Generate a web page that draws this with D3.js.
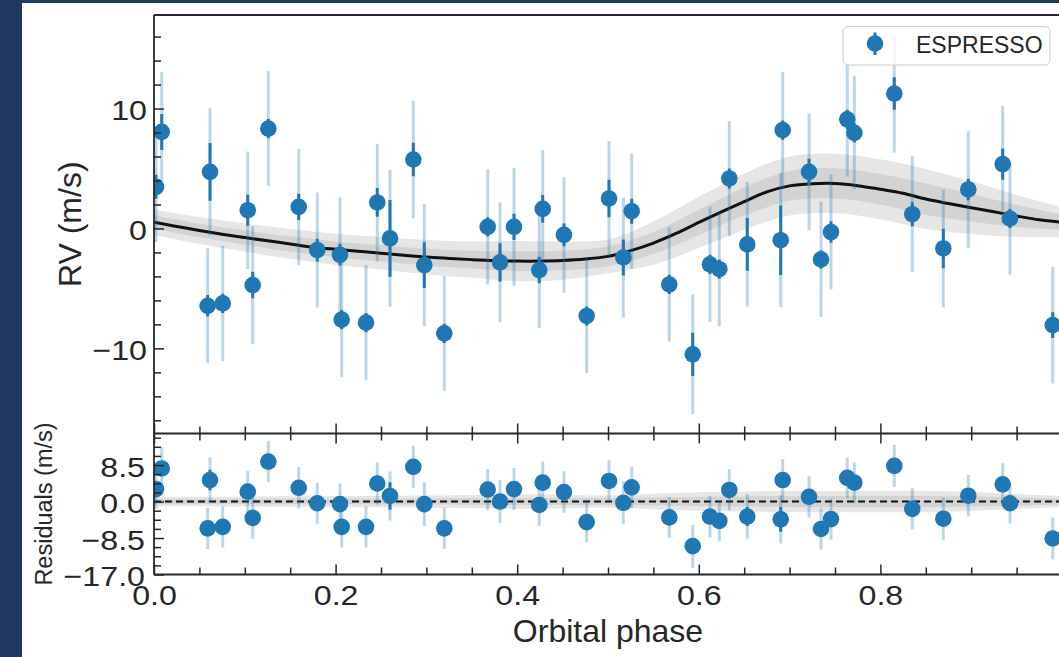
<!DOCTYPE html>
<html>
<head>
<meta charset="utf-8">
<script src="https://cdn.jsdelivr.net/npm/d3@7"></script>
<style>
  html, body { margin: 0; padding: 0; background: #1f3864; }
  svg { display: block; }
  text { font-family: "Liberation Sans", Arial, sans-serif; fill: #262626; }
</style>
</head>
<body>
<svg id="chart" width="1059" height="657"></svg>
<script>
// ESPRESSO radial velocities folded on the orbital phase
const phase = [0.0022, 0.0085, 0.0617, 0.0591, 0.0757, 0.1032, 0.1087, 0.1259, 0.1594, 0.1798,
               0.2048, 0.2067, 0.2335, 0.2459, 0.2599, 0.2856, 0.2977, 0.3197, 0.3675, 0.3811,
               0.3965, 0.4243, 0.4281, 0.4515, 0.4765, 0.5011, 0.5169, 0.5261, 0.5675, 0.5933,
               0.6123, 0.6226, 0.6336, 0.6534, 0.6902, 0.6924, 0.7214, 0.7346, 0.7456, 0.7635,
               0.7713, 0.8153, 0.8351, 0.8693, 0.8968, 0.9347, 0.9427, 0.9898];
const rv = [3.47, 8.05, 4.72, -6.45, -6.25, 1.52, -4.72, 8.33, 1.8, -1.8,
            -2.2, -7.6, -7.85, 2.17, -0.83, 5.75, -3.06, -8.75, 0.13, -2.83,
            0.13, -3.47, 1.63, -0.53, -7.3, 2.5, -2.42, 1.44, -4.67, -10.5,
            -3.0, -3.4, 4.17, -1.33, -0.98, 8.2, 4.72, -2.58, -0.3, 9.1,
            7.97, 11.25, 1.19, -1.67, 3.25, 5.36, 0.83, -8.06];
// instrumental uncertainty (dark bars)
const errInst = [1.0, 1.5, 2.4, 0.9, 0.8, 1.3, 1.1, 0.8, 1.1, 0.95,
                 0.9, 0.8, 0.8, 1.2, 3.2, 1.4, 1.9, 0.8, 0.8, 1.6,
                 1.1, 1.1, 1.15, 0.95, 0.8, 1.57, 1.5, 1.04, 0.8, 1.8,
                 0.8, 0.8, 0.83, 2.2, 2.9, 0.8, 1.1, 0.75, 0.9, 0.8,
                 0.8, 1.36, 1.0, 1.64, 0.9, 1.3, 0.8, 1.07];
// uncertainty including jitter (light bars)
const errTotal = [4.6, 5.0, 5.3, 4.8, 4.8, 4.9, 4.9, 4.8, 4.85, 4.8,
                  4.8, 4.8, 4.8, 4.9, 5.7, 4.9, 5.1, 4.8, 4.8, 5.0,
                  4.9, 4.85, 4.9, 4.83, 4.75, 4.8, 5.0, 4.8, 4.76, 5.0,
                  4.8, 4.76, 4.8, 5.2, 5.6, 4.86, 4.86, 4.8, 4.8, 4.76,
                  4.72, 4.93, 4.83, 4.9, 4.86, 4.9, 4.7, 4.86];
const resid = [2.9, 7.7, 5.0, -6.25, -5.9, 2.3, -3.8, 9.3, 3.2, -0.4,
               -0.6, -5.9, -5.9, 4.2, 1.3, 8.1, -0.6, -6.25, 2.8, 0.0,
               2.9, -0.8, 4.4, 2.2, -4.8, 4.8, -0.3, 3.3, -3.7, -10.4,
               -3.5, -4.5, 2.7, -3.5, -4.15, 5.0, 1.1, -6.4, -4.1, 5.5,
               4.4, 8.3, -1.7, -4.0, 1.35, 4.0, -0.4, -8.6];

// Keplerian model curve
const modelPhase = [0, 0.025, 0.05, 0.075, 0.1, 0.125, 0.15, 0.175, 0.2, 0.225,
                    0.25, 0.275, 0.3, 0.325, 0.35, 0.375, 0.4, 0.425, 0.45, 0.475,
                    0.5, 0.525, 0.55, 0.575, 0.6, 0.625, 0.65, 0.675, 0.7, 0.725,
                    0.75, 0.775, 0.8, 0.825, 0.85, 0.875, 0.9, 0.925, 0.95, 0.975, 1.0];
const modelRV = [0.52, 0.17, -0.17, -0.48, -0.76, -1.03, -1.29, -1.56, -1.74, -1.9,
                 -2.06, -2.23, -2.39, -2.5, -2.6, -2.68, -2.72, -2.72, -2.67, -2.55,
                 -2.33, -1.85, -1.22, -0.42, 0.5, 1.38, 2.24, 3.05, 3.55, 3.73,
                 3.75, 3.57, 3.27, 2.93, 2.45, 2.08, 1.73, 1.39, 1.04, 0.72, 0.52];
// half-widths of the inner and outer credible bands
const bandPhase = [0, 0.05, 0.1, 0.15, 0.2, 0.25, 0.3, 0.35, 0.4, 0.45, 0.5,
                   0.55, 0.6, 0.65, 0.7, 0.75, 0.8, 0.85, 0.9, 0.95, 1.0];
const band1 = [0.55, 0.57, 0.6, 0.63, 0.66, 0.68, 0.7, 0.75, 0.82, 0.82, 0.82,
               0.92, 1.04, 1.18, 1.25, 1.26, 1.28, 1.3, 1.15, 0.92, 0.65];
const band2 = [1.06, 1.12, 1.18, 1.24, 1.3, 1.36, 1.42, 1.52, 1.68, 1.6, 1.4,
               1.8, 2.14, 2.35, 2.46, 2.48, 2.5, 2.5, 2.2, 1.75, 1.25];

// ticks
const phaseMajor = [0, 0.2, 0.4, 0.6, 0.8];
const phaseMinor = d3.range(0, 20).map(i => i * 0.05);
const rvMajor = [-10, 0, 10];
const rvMinor = d3.range(-16, 17, 2);
const resMajor = [-17, -8.5, 0, 8.5];
const resMinor = d3.range(0, 16).map(i => -17 + i * 2.125);

const svg = d3.select("#chart");
const W = 1059, H = 657;

// page: white sheet over the navy frame
svg.append("rect").attr("x", 22).attr("y", 3).attr("width", W - 22).attr("height", H - 3).attr("fill", "#ffffff");

const L = 154, R = 1062;
const topY0 = 15, split = 433.5, botY1 = 574.5;

const x = d3.scaleLinear().domain([0, 1]).range([L, R]);
const yTop = d3.scaleLinear().domain([-17.1, 17.8]).range([split, topY0]);
const yBot = d3.scaleLinear().domain([-17, 15.85]).range([botY1, split]);

const defs = svg.append("defs");
defs.append("clipPath").attr("id", "clipTop").append("rect")
  .attr("x", L).attr("y", topY0).attr("width", R - L).attr("height", split - topY0);
defs.append("clipPath").attr("id", "clipBot").append("rect")
  .attr("x", L).attr("y", split).attr("width", R - L).attr("height", botY1 - split);

const blue = "#1f77b4";
const curve = d3.curveCatmullRom;
const model = modelPhase.map((p, i) => ({p, m: modelRV[i]}));
const modelAt = d3.scaleLinear().domain(modelPhase).range(modelRV);
const bands = bandPhase.map((p, i) => ({p, b1: band1[i], b2: band2[i]}));

function drawPanel(clipId, y, centerFn) {
  const g = svg.append("g").attr("clip-path", `url(#${clipId})`);
  g.append("path").datum(bands)
    .attr("d", d3.area().curve(curve).x(d => x(d.p))
      .y0(d => y(centerFn(d.p) - d.b2)).y1(d => y(centerFn(d.p) + d.b2)))
    .attr("fill", "#e6e6e6");
  g.append("path").datum(bands)
    .attr("d", d3.area().curve(curve).x(d => x(d.p))
      .y0(d => y(centerFn(d.p) - d.b1)).y1(d => y(centerFn(d.p) + d.b1)))
    .attr("fill", "#d3d3d3");
  return g;
}

function drawPoints(g, y, vals) {
  const pts = phase.map((p, i) => ({p, v: vals[i], ei: errInst[i], et: errTotal[i]}));
  g.selectAll(null).data(pts).join("line")
    .attr("x1", d => x(d.p)).attr("x2", d => x(d.p))
    .attr("y1", d => y(d.v - d.et)).attr("y2", d => y(d.v + d.et))
    .attr("stroke", blue).attr("stroke-opacity", 0.3).attr("stroke-width", 3);
  g.selectAll(null).data(pts).join("line")
    .attr("x1", d => x(d.p)).attr("x2", d => x(d.p))
    .attr("y1", d => y(d.v - d.ei)).attr("y2", d => y(d.v + d.ei))
    .attr("stroke", blue).attr("stroke-width", 3);
  g.selectAll(null).data(pts).join("circle")
    .attr("cx", d => x(d.p)).attr("cy", d => y(d.v)).attr("r", 8.3)
    .attr("fill", blue);
}

// upper panel: RV with model
const gTop = drawPanel("clipTop", yTop, p => modelAt(p));
gTop.append("path").datum(model)
  .attr("d", d3.line().curve(curve).x(d => x(d.p)).y(d => yTop(d.m)))
  .attr("fill", "none").attr("stroke", "#111111").attr("stroke-width", 3);
drawPoints(gTop, yTop, rv);

// lower panel: residuals
const gBot = drawPanel("clipBot", yBot, p => 0);
gBot.append("line").attr("x1", L).attr("x2", R).attr("y1", yBot(0)).attr("y2", yBot(0))
  .attr("stroke", "#111111").attr("stroke-width", 2).attr("stroke-dasharray", "7,4");
drawPoints(gBot, yBot, resid);

// axes
const fmt1 = d3.format(".1f");
const sx = 1.13; // wide tick-label glyphs
function styleAxis(g) {
  g.select(".domain").remove();
  g.selectAll(".tick line").attr("stroke", "#262626").attr("stroke-width", 1.5);
  g.selectAll(".tick text").attr("fill", "#262626").style("font-size", "28.5px")
    .style("font-family", '"Liberation Sans", Arial, sans-serif');
  return g;
}
function widen(g) {
  g.selectAll(".tick text").each(function () {
    const t = d3.select(this);
    const x0 = +t.attr("x") || 0;
    t.attr("x", x0 / sx).attr("transform", `scale(${sx},1)`);
  });
}
// left axes
styleAxis(svg.append("g").attr("transform", `translate(${L},0)`)
  .call(d3.axisLeft(yTop).tickValues(rvMinor.filter(v => !rvMajor.includes(v))).tickSize(-7).tickFormat("")));
const rvAxis = styleAxis(svg.append("g").attr("transform", `translate(${L},0)`)
  .call(d3.axisLeft(yTop).tickValues(rvMajor).tickSize(-10).tickPadding(7).tickFormat(d3.format("d"))));
rvAxis.selectAll(".tick text").attr("dy", "0.4em");
widen(rvAxis);
styleAxis(svg.append("g").attr("transform", `translate(${L},0)`)
  .call(d3.axisLeft(yBot).tickValues(resMinor.filter(v => !resMajor.includes(v))).tickSize(-7).tickFormat("")));
const resAxis = styleAxis(svg.append("g").attr("transform", `translate(${L},0)`)
  .call(d3.axisLeft(yBot).tickValues(resMajor).tickSize(-10).tickPadding(9).tickFormat(fmt1)));
resAxis.selectAll(".tick text").attr("dy", "0.4em");
widen(resAxis);

// phase ticks along both panels
const minorPh = phaseMinor.filter(v => !phaseMajor.some(m => Math.abs(m - v) < 1e-9));
[[split, 1], [split, -1], [botY1, 1]].forEach(([yy, dir]) => {
  const make = dir === 1 ? d3.axisBottom : d3.axisTop;
  styleAxis(svg.append("g").attr("transform", `translate(0,${yy})`)
    .call(make(x).tickValues(minorPh).tickSize(-7).tickFormat("")));
  styleAxis(svg.append("g").attr("transform", `translate(0,${yy})`)
    .call(make(x).tickValues(phaseMajor).tickSize(-10).tickFormat("")));
});
const phAxis = styleAxis(svg.append("g").attr("transform", `translate(0,${botY1})`)
  .call(d3.axisBottom(x).tickValues(phaseMajor).tickSize(0).tickPadding(10.5).tickFormat(fmt1)));
phAxis.selectAll(".tick line").remove();
widen(phAxis);

// spines
const spine = svg.append("g").attr("stroke", "#262626").attr("stroke-width", 1.8).attr("fill", "none");
spine.append("line").attr("x1", L).attr("x2", L).attr("y1", topY0).attr("y2", botY1);
spine.append("line").attr("x1", L).attr("x2", R).attr("y1", topY0).attr("y2", topY0);
spine.append("line").attr("x1", L).attr("x2", R).attr("y1", split).attr("y2", split);
spine.append("line").attr("x1", L).attr("x2", R).attr("y1", botY1).attr("y2", botY1);

// axis titles
svg.append("text").attr("x", (L + R) / 2).attr("y", 642).attr("text-anchor", "middle")
  .style("font-size", "32px").text("Orbital phase");
svg.append("text").attr("transform", `translate(81,${(topY0 + split) / 2}) rotate(-90)`)
  .attr("text-anchor", "middle").style("font-size", "32px").text("RV (m/s)");
svg.append("text").attr("transform", `translate(52,${(split + botY1) / 2}) rotate(-90)`)
  .attr("text-anchor", "middle").style("font-size", "23.5px").text("Residuals (m/s)");

// legend
const lg = svg.append("g");
lg.append("rect").attr("x", 843).attr("y", 26.5).attr("width", 207).attr("height", 38.5)
  .attr("rx", 5).attr("fill", "#ffffff").attr("fill-opacity", 0.8)
  .attr("stroke", "#cccccc").attr("stroke-width", 1);
lg.append("line").attr("x1", 875).attr("x2", 875).attr("y1", 32.5).attr("y2", 55)
  .attr("stroke", blue).attr("stroke-width", 3);
lg.append("circle").attr("cx", 875).attr("cy", 43.5).attr("r", 8.3).attr("fill", blue);
lg.append("text").attr("x", 916).attr("y", 52.5).style("font-size", "23px").text("ESPRESSO");
</script>
</body>
</html>
